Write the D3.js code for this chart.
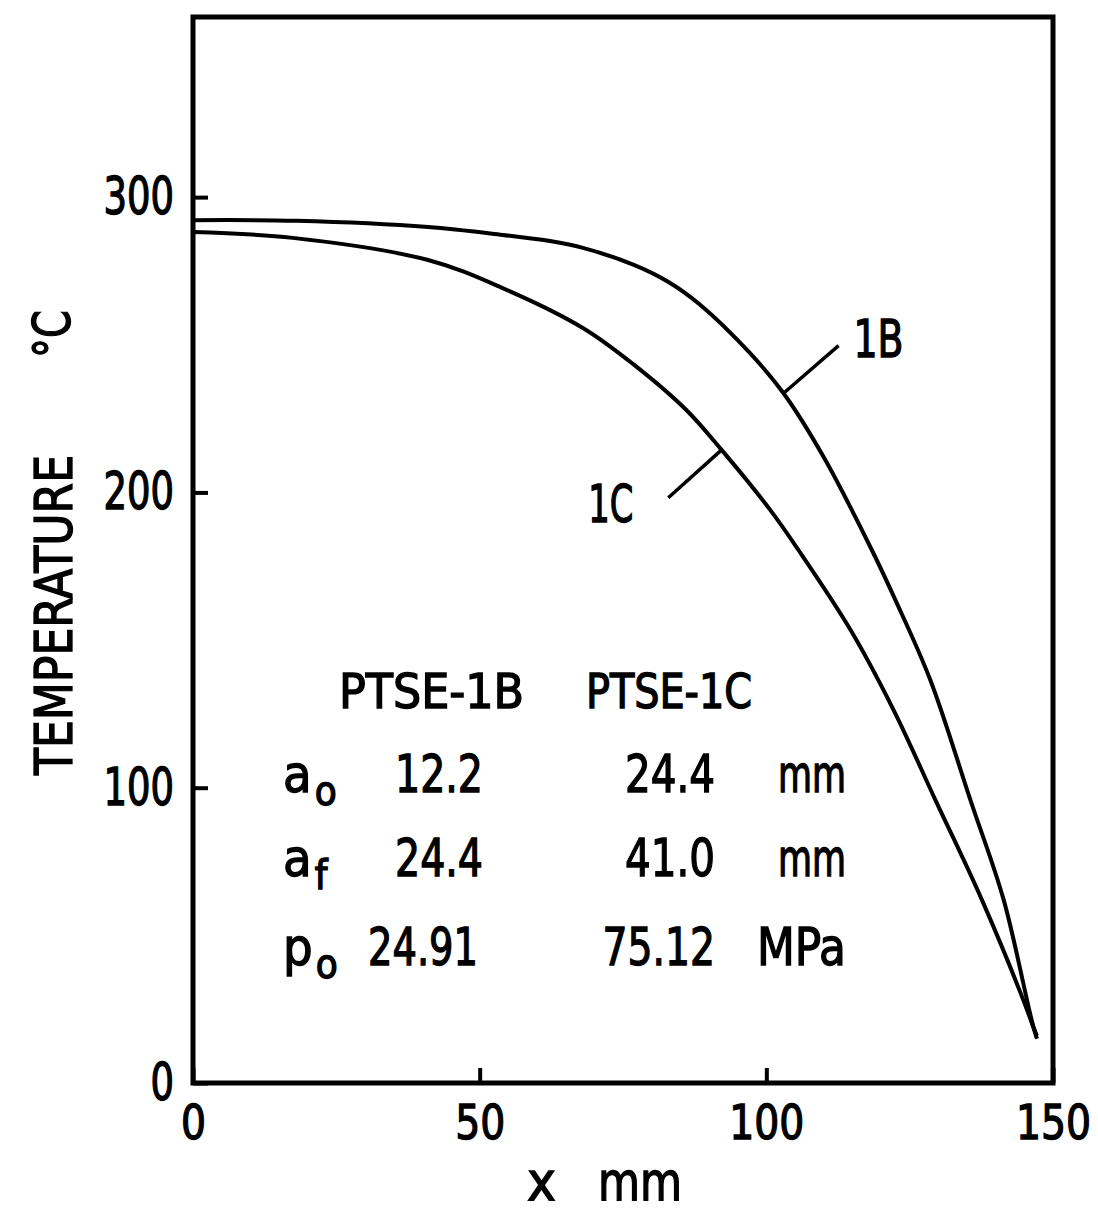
<!DOCTYPE html>
<html>
<head>
<meta charset="utf-8">
<script src="https://cdn.jsdelivr.net/npm/d3@7"></script>
<style>
  html, body { margin: 0; padding: 0; background: #fff; }
  svg { display: block; }
  text { font-family: "DejaVu Sans Condensed", "DejaVu Sans", sans-serif; fill: #000; stroke: #000; stroke-width: 1.3px; }
</style>
</head>
<body>
<div id="chart"></div>
<script>
// curve data: [x mm, temperature °C]
const curve1B = [
  [0, 292.2], [18, 292.0], [41, 289.9], [54, 287.2], [62, 285.2], [68, 282.8],
  [77, 277], [83, 271.2], [88.5, 263.5], [97, 247.5], [103, 233.6], [110, 212],
  [118.4, 180.5], [122.5, 163.6], [128.6, 136.5], [135.6, 95.8],
  [141.4, 62], [146.6, 19], [147.2, 16]
];
const curve1C = [
  [0, 288.2], [17.4, 286.2], [41, 278.7], [54, 269.2], [68, 255.7], [77, 243.1],
  [86, 228], [92.2, 214.4], [100.7, 194], [105.6, 180.5], [114.7, 153.4],
  [122.2, 126.3], [129.5, 95.8], [137.6, 62], [146, 22], [147.2, 15]
];

const xTicks = [0, 50, 100, 150];
const yTicks = [0, 100, 200, 300];

// leader lines: [point on curve, outer end], in data units
const leader1B = [[103, 233.6], [112.6, 249.7]];
const leader1C = [[92.2, 214.4], [82.9, 198.2]];

// inset table
const tableHeads = ['PTSE-1B', 'PTSE-1C'];
const rowSymbols = [['a', 'o'], ['a', 'f'], ['p', 'o']];
const col1B = ['12.2', '24.4', '24.91'];
const col1C = ['24.4', '41.0', '75.12'];
const rowUnits = ['mm', 'mm', 'MPa'];

const W = 1098, H = 1212;
const margin = { left: 193, right: 45, top: 17, bottom: 129 };

// squeeze a text to a given width (the original lettering is a narrow DIN face)
function fit(sel, w) {
  sel.attr('textLength', w).attr('lengthAdjust', 'spacingAndGlyphs');
  return sel;
}

const svg = d3.select('#chart').append('svg')
  .attr('width', W)
  .attr('height', H);

const x = d3.scaleLinear().domain([0, 150]).range([margin.left, W - margin.right]);
const y = d3.scaleLinear().domain([0, 361]).range([H - margin.bottom, margin.top]);

// axes with inward ticks
const xAxis = d3.axisBottom(x).tickValues(xTicks).tickSize(-15).tickPadding(22);
const yAxis = d3.axisLeft(y).tickValues(yTicks).tickSize(-15).tickPadding(19);

const gx = svg.append('g')
  .attr('transform', `translate(0,${y(0)})`)
  .call(xAxis);
const gy = svg.append('g')
  .attr('transform', `translate(${x(0)},0)`)
  .call(yAxis);

[gx, gy].forEach(g => {
  g.select('.domain').remove();
  g.selectAll('line').attr('stroke', '#000').attr('stroke-width', 4);
  g.selectAll('text')
    .attr('fill', '#000')
    .attr('font-family', '"DejaVu Sans Condensed", "DejaVu Sans", sans-serif');
});
gx.selectAll('text')
  .attr('font-size', 48)
  .call(fit, d => String(d).length * 25);
gy.selectAll('text')
  .attr('font-size', 51)
  .call(fit, d => String(d).length * 23.5);

// frame
svg.append('rect')
  .attr('x', x(0))
  .attr('y', y(361))
  .attr('width', x(150) - x(0))
  .attr('height', y(0) - y(361))
  .attr('fill', 'none')
  .attr('stroke', '#000')
  .attr('stroke-width', 5);

// curves
const line = d3.line()
  .x(d => x(d[0]))
  .y(d => y(d[1]))
  .curve(d3.curveCatmullRom.alpha(0.5));

svg.selectAll('.curve')
  .data([curve1B, curve1C])
  .enter()
  .append('path')
  .attr('class', 'curve')
  .attr('d', line)
  .attr('fill', 'none')
  .attr('stroke', '#000')
  .attr('stroke-width', 4)
  .attr('stroke-linejoin', 'round');

// leader lines + curve labels
svg.selectAll('.leader')
  .data([leader1B, leader1C])
  .enter()
  .append('path')
  .attr('class', 'leader')
  .attr('d', d3.line().x(d => x(d[0])).y(d => y(d[1])))
  .attr('stroke', '#000')
  .attr('stroke-width', 3.5)
  .attr('fill', 'none');

svg.append('text')
  .attr('x', x(leader1B[1][0]) + 15)
  .attr('y', y(leader1B[1][1]) + 11)
  .attr('font-size', 51)
  .text('1B')
  .call(fit, 50);

svg.append('text')
  .attr('x', x(leader1C[1][0]) - 80)
  .attr('y', y(leader1C[1][1]) + 24)
  .attr('font-size', 51)
  .text('1C')
  .call(fit, 45);

// axis titles
svg.append('text')
  .attr('transform', 'translate(72,615) rotate(-90)')
  .attr('text-anchor', 'middle')
  .attr('font-size', 52)
  .text('TEMPERATURE')
  .call(fit, 320);

svg.append('text')
  .attr('transform', 'translate(70,358) rotate(-90)')
  .attr('text-anchor', 'start')
  .attr('font-size', 52)
  .text('°C')
  .call(fit, 48);

svg.append('text')
  .attr('x', 527)
  .attr('y', 1200)
  .attr('font-size', 54)
  .text('x')
  .call(fit, 29);

svg.append('text')
  .attr('x', 598)
  .attr('y', 1200)
  .attr('font-size', 54)
  .text('mm')
  .call(fit, 84);

// inset table
const table = svg.append('g').attr('class', 'inset');
const headX = [339, 586];
const headW = [185, 166];
table.selectAll('.head')
  .data(tableHeads)
  .enter()
  .append('text')
  .attr('class', 'head')
  .attr('x', (d, i) => headX[i])
  .attr('y', 708)
  .attr('font-size', 48)
  .text(d => d)
  .each(function(d, i) { fit(d3.select(this), headW[i]); });

const rowY = [792, 876, 965];
const rows = table.selectAll('.row')
  .data(rowSymbols)
  .enter()
  .append('g')
  .attr('class', 'row')
  .attr('transform', (d, i) => `translate(0,${rowY[i]})`);

const sym = rows.append('text')
  .attr('x', 283)
  .attr('font-size', 52);
sym.append('tspan').text(d => d[0]);
sym.append('tspan')
  .attr('dy', 13)
  .attr('dx', 3)
  .attr('font-size', 40)
  .text(d => d[1]);

rows.append('text')
  .attr('x', (d, i) => i === 2 ? 368 : 395)
  .attr('font-size', 52)
  .text((d, i) => col1B[i])
  .call(fit, (d, i) => col1B[i].length * 22);

rows.append('text')
  .attr('x', 715)
  .attr('text-anchor', 'end')
  .attr('font-size', 52)
  .text((d, i) => col1C[i])
  .call(fit, (d, i) => col1C[i].length * 22.5);

rows.append('text')
  .attr('x', 846)
  .attr('text-anchor', 'end')
  .attr('font-size', 52)
  .text((d, i) => rowUnits[i])
  .call(fit, (d, i) => rowUnits[i] === 'MPa' ? 89 : 68);
</script>
</body>
</html>
